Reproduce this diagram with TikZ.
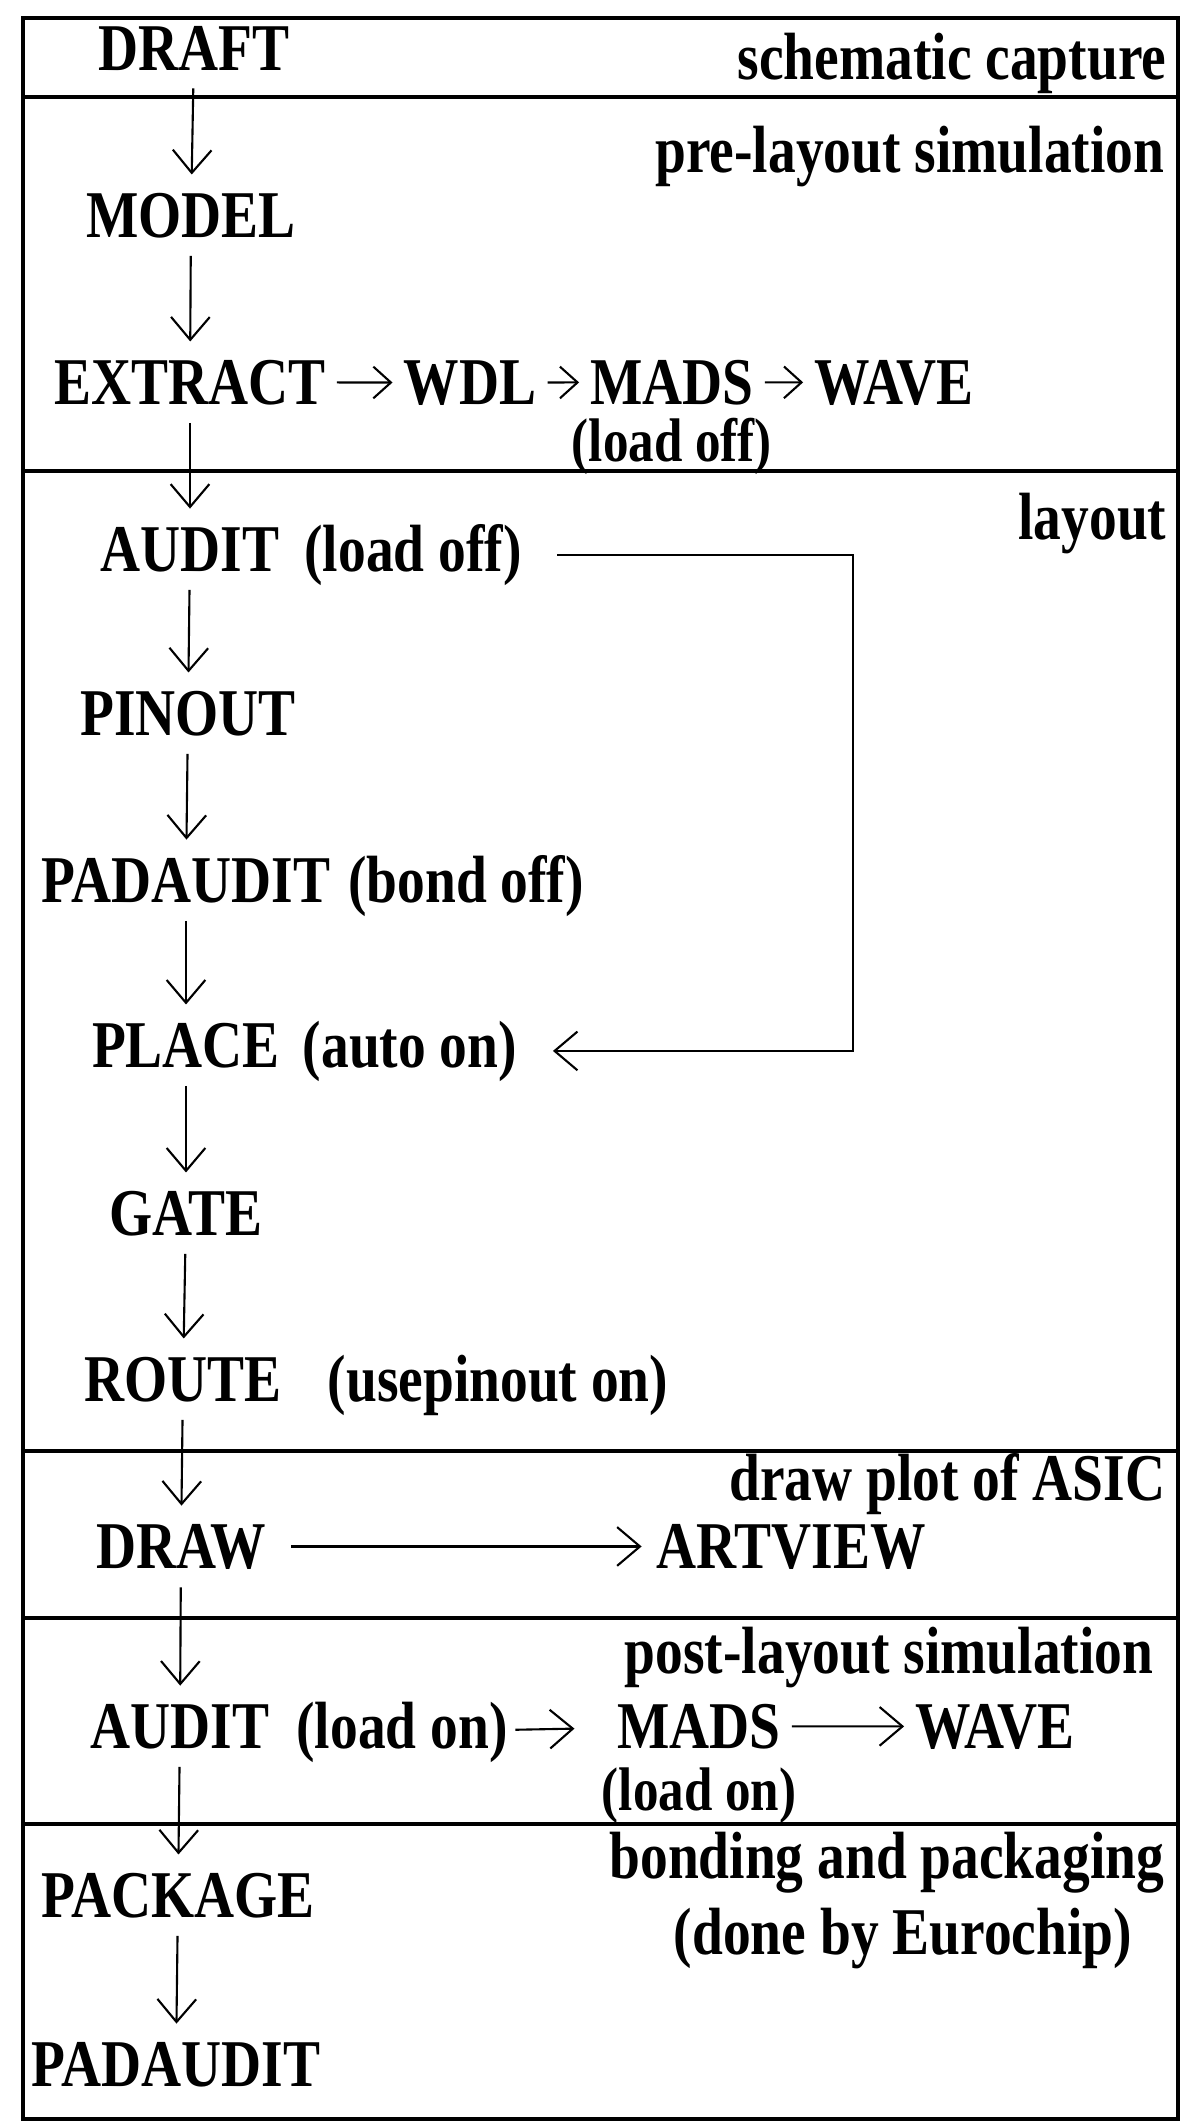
\documentclass[tikz,border=0pt]{standalone}
\usepackage{fontspec}
\setmainfont{Liberation Serif}[FakeStretch=0.83]
\usetikzlibrary{arrows.meta}

\begin{document}
\begin{tikzpicture}[x=0.01cm, y=-0.01cm,
  every node/.style={font=\fontsize{19}{21}\selectfont\bfseries, inner sep=2pt},
  stage/.style={anchor=base},
  note/.style={anchor=base, font=\fontsize{17.5}{20}\selectfont\bfseries, inner sep=0pt},
  phase/.style={anchor=base east, inner sep=0pt},
  frame/.style={line width=1.1pt},
  flow/.style={line width=0.6pt, -{Straight Barb[length=6.5pt,width=11pt]}, shorten <=3pt, shorten >=3pt},
  inline/.style={line width=0.6pt, -{Straight Barb[length=5pt,width=9pt]}, shorten <=1pt, shorten >=1pt}]
  \useasboundingbox (0,0) rectangle (1190,2123);
  \draw[frame] (23,18) rectangle (1178,2119);
  \foreach \y in {97,471,1451,1618,1824}
    \draw[frame] (23,\y) -- (1178,\y);

  \node[phase] (capture) at (1167,79) {schematic capture};
  \node[phase] (prelayout) at (1165,172) {pre-layout simulation};
  \node[phase] (layout) at (1167,539) {layout};
  \node[phase] (plot) at (1166,1500) {draw plot of ASIC};
  \node[phase] (postlayout) at (1154,1673) {post-layout simulation};
  \node[phase] (bonding) at (1165,1878) {bonding and packaging};
  \node[stage] (eurochip) at (903,1954) {(done by Eurochip)};

  \node[stage] (draft) at (194,70) {DRAFT};
  \node[stage] (model) at (191,237) {MODEL};
  \node[stage] (extract) at (190,404) {EXTRACT};
  \node[stage] (wdl) at (470,404) {WDL};
  \node[stage] (mads1) at (672,404) {MADS};
  \node[stage] (wave1) at (894,404) {WAVE};
  \node[note] (loadoff1) at (672,461) {(load off)};
  \node[stage] (audit1) at (190,571) {AUDIT};
  \node[stage] (loadoff2) at (413,571) {(load off)};
  \node[stage] (pinout) at (188,735) {PINOUT};
  \node[stage] (padaudit1) at (186,902) {PADAUDIT};
  \node[stage] (bondoff) at (466,902) {(bond off)};
  \node[stage] (place) at (186,1067) {PLACE};
  \node[stage] (autoon) at (410,1067) {(auto on)};
  \node[stage] (gate) at (186,1235) {GATE};
  \node[stage] (route) at (183,1401) {ROUTE};
  \node[stage] (usepinout) at (498,1401) {(usepinout on)};
  \node[stage] (draw) at (181,1568) {DRAW};
  \node[stage] (artview) at (791,1568) {ARTVIEW};
  \node[stage] (audit2) at (180,1748) {AUDIT};
  \node[stage] (loadon1) at (402,1748) {(load on)};
  \node[stage] (mads2) at (699,1748) {MADS};
  \node[stage] (wave2) at (995,1748) {WAVE};
  \node[note] (loadon2) at (699,1810) {(load on)};
  \node[stage] (package) at (178,1917) {PACKAGE};
  \node[stage] (padaudit2) at (176,2086) {PADAUDIT};
  \coordinate (back) at (853,571);

  \draw[flow] (draft) -- (model);
  \draw[flow] (model) -- (extract);
  \draw[flow] (extract) -- (audit1);
  \draw[flow] (audit1) -- (pinout);
  \draw[flow] (pinout) -- (padaudit1);
  \draw[flow] (padaudit1) -- (place);
  \draw[flow] (place) -- (gate);
  \draw[flow] (gate) -- (route);
  \draw[flow] (route) -- (draw);
  \draw[flow] (draw) -- (audit2);
  \draw[flow] (audit2) -- (package);
  \draw[flow] (package) -- (padaudit2);
  \draw[inline] (extract) -- (wdl);
  \draw[inline] (wdl) -- (mads1);
  \draw[inline] (mads1) -- (wave1);
  \draw[flow, shorten <=8pt, shorten >=8pt] (loadoff2.east) -- (loadoff2.east -| back) |- (autoon.east);
  \draw[flow, shorten <=5pt, shorten >=2pt] (draw) -- (artview);
  \draw[flow, shorten <=0pt, shorten >=10pt] (loadon1) -- (mads2);
  \draw[flow, shorten <=1pt, shorten >=1pt] (mads2) -- (wave2);
\end{tikzpicture}
\end{document}
